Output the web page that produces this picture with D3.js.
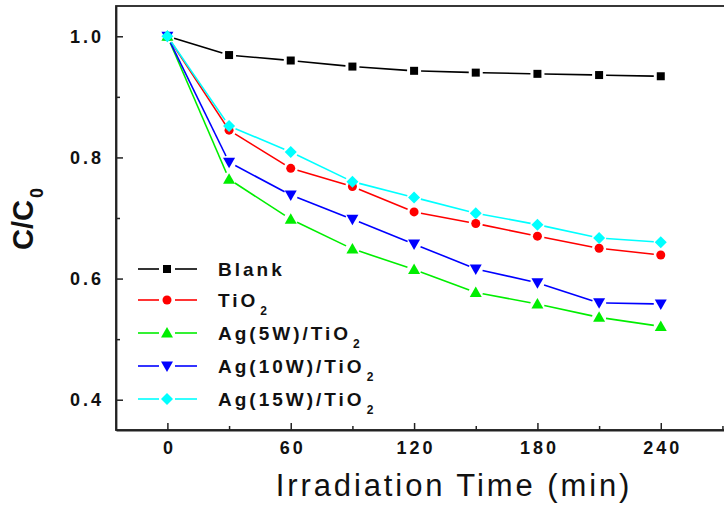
<!DOCTYPE html>
<html>
<head>
<meta charset="utf-8">
<script src="https://cdn.jsdelivr.net/npm/d3@7/dist/d3.min.js"></script>
<style>
  html, body { margin: 0; padding: 0; background: #fff; }
  svg { display: block; }
  text { font-family: "Liberation Sans", Arial, sans-serif; }
</style>
</head>
<body>
<svg id="chart" width="724" height="506"></svg>
<script>
// ---- Data ----
const times = [0, 30, 60, 90, 120, 150, 180, 210, 240];
const blank   = [1.000, 0.969, 0.960, 0.950, 0.943, 0.940, 0.938, 0.936, 0.934];
const tio2    = [1.000, 0.845, 0.782, 0.752, 0.710, 0.691, 0.670, 0.650, 0.639];
const ag5w    = [1.000, 0.764, 0.698, 0.649, 0.615, 0.577, 0.558, 0.536, 0.521];
const ag10w   = [1.000, 0.792, 0.738, 0.698, 0.657, 0.616, 0.593, 0.560, 0.558];
const ag15w   = [1.000, 0.852, 0.809, 0.760, 0.734, 0.708, 0.689, 0.667, 0.660];
const seriesNames = ["Blank", "TiO2", "Ag(5W)/TiO2", "Ag(10W)/TiO2", "Ag(15W)/TiO2"];
const xTicks = [0, 60, 120, 180, 240];
const xMinorTicks = [30, 90, 150, 210, 270];
const yTicks = [0.4, 0.6, 0.8, 1.0];
const yMinorTicks = [0.5, 0.7, 0.9];

const seriesStyle = [
  { color: "#000000", symbol: "square" },
  { color: "#ff0000", symbol: "circle" },
  { color: "#00ee00", symbol: "triUp" },
  { color: "#0000ff", symbol: "triDown" },
  { color: "#00ffff", symbol: "diamond" }
];
const seriesValues = [blank, tio2, ag5w, ag10w, ag15w];

// ---- Layout ----
const svg = d3.select("#chart");
const mLeft = 116, mRight = 724.5, mTop = 6, mBottom = 430;
const x = d3.scaleLinear().domain([-25, 271]).range([mLeft, mRight]);
const y = d3.scaleLinear().domain([0.35, 1.05]).range([mBottom, mTop]);

// frame
svg.append("rect")
  .attr("x", mLeft).attr("y", mTop)
  .attr("width", 700).attr("height", mBottom - mTop)
  .attr("fill", "none").attr("stroke", "#222").attr("stroke-width", 1.8);

// X axis
const xAxisG = svg.append("g").attr("transform", `translate(0,${mBottom})`)
  .call(d3.axisBottom(x).tickValues(xTicks).tickSizeInner(-7).tickSizeOuter(0).tickPadding(11).tickFormat(d3.format("d")));
xAxisG.select(".domain").attr("stroke", "#222").attr("stroke-width", 1.8);
xAxisG.selectAll(".tick line").attr("stroke", "#222").attr("stroke-width", 1.5);
xAxisG.selectAll("text")
  .attr("font-size", 18).attr("font-weight", "bold").attr("fill", "#111")
  .style("letter-spacing", "3px").style("-webkit-text-stroke", "0.4px #111").attr("dx", "1.5px");
const xMinorG = svg.append("g").attr("transform", `translate(0,${mBottom})`)
  .call(d3.axisBottom(x).tickValues(xMinorTicks).tickSizeInner(-4).tickSizeOuter(0).tickFormat(""));
xMinorG.select(".domain").remove();
xMinorG.selectAll(".tick line").attr("stroke", "#222").attr("stroke-width", 1.5);

// Y axis
const yAxisG = svg.append("g").attr("transform", `translate(${mLeft},0)`)
  .call(d3.axisLeft(y).tickValues(yTicks).tickSizeInner(-7).tickSizeOuter(0).tickPadding(15).tickFormat(d3.format(".1f")));
yAxisG.select(".domain").attr("stroke", "#222").attr("stroke-width", 1.8);
yAxisG.selectAll(".tick line").attr("stroke", "#222").attr("stroke-width", 1.5);
yAxisG.selectAll("text")
  .attr("font-size", 18).attr("font-weight", "bold").attr("fill", "#111")
  .style("letter-spacing", "3px").style("-webkit-text-stroke", "0.4px #111").attr("dx", "3px");
const yMinorG = svg.append("g").attr("transform", `translate(${mLeft},0)`)
  .call(d3.axisLeft(y).tickValues(yMinorTicks).tickSizeInner(-4).tickSizeOuter(0).tickFormat(""));
yMinorG.select(".domain").remove();
yMinorG.selectAll(".tick line").attr("stroke", "#222").attr("stroke-width", 1.5);

// Axis titles
svg.append("text")
  .attr("x", 454).attr("y", 496)
  .attr("text-anchor", "middle")
  .attr("font-size", 31).attr("fill", "#111")
  .style("letter-spacing", "2.9px")
  .style("-webkit-text-stroke", "0.7px #111")
  .text("Irradiation Time (min)");

const yt = svg.append("text")
  .attr("transform", "translate(33,219) rotate(-90)")
  .attr("text-anchor", "middle")
  .attr("font-size", 29).attr("font-weight", "bold").attr("fill", "#111")
  .style("-webkit-text-stroke", "0.4px #111");
yt.append("tspan").text("C/C");
yt.append("tspan").attr("font-size", 18).attr("dy", 10).attr("dx", 2).text("0");

// ---- Symbols ----
function drawSymbol(g, sym, cx, cy, color) {
  if (sym === "square") {
    g.append("rect").attr("x", cx - 4).attr("y", cy - 4).attr("width", 8).attr("height", 8).attr("fill", color);
  } else if (sym === "circle") {
    g.append("circle").attr("cx", cx).attr("cy", cy).attr("r", 4.5).attr("fill", color);
  } else if (sym === "triUp") {
    g.append("path").attr("d", `M${cx},${cy - 6}L${cx + 6},${cy + 4.5}L${cx - 6},${cy + 4.5}Z`).attr("fill", color);
  } else if (sym === "triDown") {
    g.append("path").attr("d", `M${cx},${cy + 6}L${cx + 6},${cy - 4.5}L${cx - 6},${cy - 4.5}Z`).attr("fill", color);
  } else if (sym === "diamond") {
    g.append("path").attr("d", `M${cx},${cy - 6}L${cx + 6},${cy}L${cx},${cy + 6}L${cx - 6},${cy}Z`).attr("fill", color);
  }
}

// gapped line segments
function drawGappedLine(g, pts, color, gap) {
  for (let i = 0; i < pts.length - 1; i++) {
    const [x1, y1] = pts[i], [x2, y2] = pts[i + 1];
    const dx = x2 - x1, dy = y2 - y1, len = Math.hypot(dx, dy);
    if (len <= 2 * gap) continue;
    const ux = dx / len, uy = dy / len;
    g.append("line")
      .attr("x1", x1 + ux * gap).attr("y1", y1 + uy * gap)
      .attr("x2", x2 - ux * gap).attr("y2", y2 - uy * gap)
      .attr("stroke", color).attr("stroke-width", 1.6);
  }
}

const plot = svg.append("g");
seriesValues.forEach((vals, si) => {
  const st = seriesStyle[si];
  const g = plot.append("g");
  const pts = times.map((t, i) => [x(t), y(vals[i])]);
  drawGappedLine(g, pts, st.color, 7);
});
seriesValues.forEach((vals, si) => {
  const st = seriesStyle[si];
  const g = plot.append("g");
  times.forEach((t, i) => drawSymbol(g, st.symbol, x(t), y(vals[i]), st.color));
});

// ---- Legend ----
const legendY = [269, 300, 333, 366, 399];
const legend = svg.append("g");
seriesNames.forEach((name, i) => {
  const st = seriesStyle[i];
  const ly = legendY[i];
  const g = legend.append("g");
  g.append("line").attr("x1", 138).attr("x2", 159).attr("y1", ly).attr("y2", ly).attr("stroke", st.color).attr("stroke-width", 1.6);
  g.append("line").attr("x1", 175).attr("x2", 197).attr("y1", ly).attr("y2", ly).attr("stroke", st.color).attr("stroke-width", 1.6);
  drawSymbol(g, st.symbol, 167, ly, st.color);
  const t = g.append("text").attr("x", 218).attr("y", ly + 7)
    .attr("font-size", 19).attr("font-weight", "bold").attr("fill", "#111")
    .style("letter-spacing", "3px").style("-webkit-text-stroke", "0.4px #111");
  if (name.endsWith("2")) {
    t.append("tspan").text(name.slice(0, -1));
    t.append("tspan").attr("font-size", 12).attr("dy", 8).attr("dx", 2).text("2");
  } else {
    t.text(name);
  }
});
</script>
</body>
</html>
